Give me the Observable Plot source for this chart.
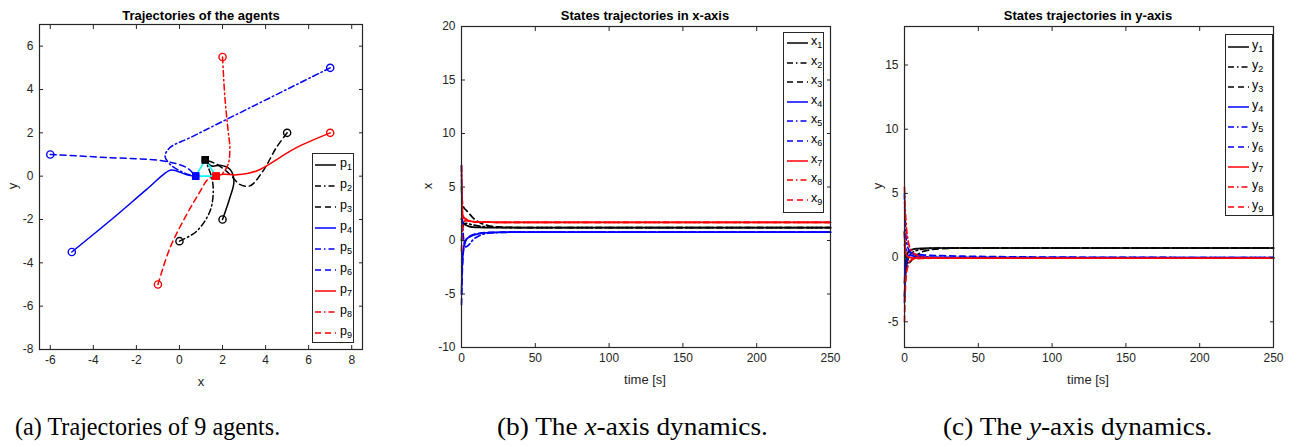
<!DOCTYPE html>
<html><head><meta charset="utf-8">
<script src="https://cdn.jsdelivr.net/npm/d3@7"></script>
<script src="https://cdn.jsdelivr.net/npm/@observablehq/plot@0.6"></script>
<style>
body{margin:0;background:#fff;width:1301px;height:447px;overflow:hidden;position:relative;font-family:"Liberation Sans",Arial,sans-serif;}
.panel{position:absolute;top:0;}
.title{position:absolute;font-weight:bold;font-size:13px;color:#000;transform:translateX(-50%);white-space:nowrap;line-height:1;}
.lab{position:absolute;font-size:13px;color:#262626;white-space:nowrap;line-height:1;transform:translate(-50%,-50%);}
.lab.rot{transform:translate(-50%,-50%) rotate(-90deg);}
.cap{position:absolute;font-family:"Liberation Serif","Times New Roman",serif;font-size:26px;top:412px;white-space:nowrap;color:#000;line-height:1.15;transform-origin:0 50%;}
.legend{position:absolute;border:1px solid #262626;background:#fff;box-sizing:border-box;}
.row{position:absolute;font-size:12.5px;line-height:1;color:#000;white-space:nowrap;}
.row sub{font-size:9px;vertical-align:-3px;}
</style>
</head><body>
<script>
// ---------- data ----------
const agentIds = [1,2,3,4,5,6,7,8,9];
const agentColors = ["#000000","#000000","#000000","#0000ff","#0000ff","#0000ff","#ff0000","#ff0000","#ff0000"];
const agentDash = ["none","6,3,1.5,3","6,4","none","6,3,1.5,3","6,4","none","6,3,1.5,3","6,4"];

// (a) planar trajectories (x, y)
const p1x = [2, 2.34, 2.53, 2.34, 1.88, 1.5, 1.2];
const p1y = [-2, -1.0, -0.22, 0.32, 0.5, 0.47, 0.75];
const p2x = [0, 0.8, 1.42, 1.57, 1.5, 1.34, 1.2];
const p2y = [-3, -2.54, -1.61, -0.69, -0.07, 0.4, 0.75];
const p3x = [5, 4.5, 3.88, 3.27, 2.8, 2.34, 1.73, 1.2];
const p3y = [2, 1.32, 0.24, -0.45, -0.38, 0.09, 0.55, 0.75];
const p4x = [-5, -3.06, -1.51, -0.44, -0.13, 0.34, 0.75];
const p4y = [-3.5, -1.92, -0.6, 0.27, 0.24, 0.06, 0];
const p5x = [7, 3.5, 0.5, -0.44, -0.67, -0.44, 0.03, 0.49, 0.75];
const p5y = [5, 3.27, 1.78, 1.32, 0.93, 0.55, 0.24, 0.05, 0];
const p6x = [-6, -3.37, -0.74, 0.34, 0.75];
const p6y = [1, 0.86, 0.7, 0.39, 0];
const p7x = [7, 5.43, 4.66, 3.58, 2.65, 2.03, 1.7];
const p7y = [2, 1.32, 0.86, 0.24, 0.06, 0.09, 0];
const p8x = [2, 2.11, 2.26, 2.34, 2.26, 1.99, 1.7];
const p8y = [5.5, 3.63, 2.09, 1.32, 0.55, 0.12, 0];
const p9x = [-1, -0.44, 0.34, 0.88, 1.35, 1.7];
const p9y = [-5, -3.31, -1.76, -0.84, -0.12, 0];
const formationX = [1.2, 0.75, 1.7, 1.2];
const formationY = [0.75, 0, 0, 0.75];

// (b),(c) time series
const time = [0, 0.25, 0.5, 1, 2, 3, 5, 8, 12, 18, 25, 40, 60, 100, 150, 250];
const x1 = [2, 1.9, 1.8, 1.7, 1.55, 1.45, 1.32, 1.25, 1.22, 1.21, 1.2, 1.2, 1.2, 1.2, 1.2, 1.2];
const x2 = [0, 0.5, 0.9, 1.3, 1.55, 1.6, 1.55, 1.45, 1.35, 1.27, 1.22, 1.2, 1.2, 1.2, 1.2, 1.2];
const x3 = [5, 4.2, 3.7, 3.25, 3.0, 2.85, 2.55, 2.1, 1.7, 1.4, 1.27, 1.21, 1.2, 1.2, 1.2, 1.2];
const x4 = [-5, -3.5, -2.4, -1.2, -0.3, 0.05, 0.3, 0.5, 0.65, 0.73, 0.76, 0.78, 0.78, 0.78, 0.78, 0.78];
const x5 = [7, 4.5, 2.8, 0.9, -0.3, -0.6, -0.4, 0.1, 0.45, 0.68, 0.75, 0.78, 0.78, 0.78, 0.78, 0.78];
const x6 = [-6, -4.2, -3.0, -1.5, -0.4, 0.0, 0.35, 0.55, 0.68, 0.75, 0.77, 0.78, 0.78, 0.78, 0.78, 0.78];
const x7 = [7, 4.2, 3.0, 2.3, 2.1, 2.0, 1.85, 1.76, 1.72, 1.71, 1.7, 1.7, 1.7, 1.7, 1.7, 1.7];
const x8 = [2, 2.05, 2.1, 2.1, 2.05, 2.0, 1.85, 1.76, 1.72, 1.71, 1.7, 1.7, 1.7, 1.7, 1.7, 1.7];
const x9 = [-1, 0.2, 0.9, 1.5, 1.8, 1.85, 1.8, 1.75, 1.72, 1.71, 1.7, 1.7, 1.7, 1.7, 1.7, 1.7];
const y1 = [-2, -1.3, -0.8, -0.2, 0.3, 0.5, 0.62, 0.7, 0.73, 0.75, 0.75, 0.75, 0.75, 0.75, 0.75, 0.75];
const y2 = [-3, -2.3, -1.8, -1.0, -0.3, 0.05, 0.35, 0.55, 0.66, 0.72, 0.74, 0.75, 0.75, 0.75, 0.75, 0.75];
const y3 = [2, 1.2, 0.6, 0.0, -0.35, -0.4, -0.2, 0.15, 0.45, 0.62, 0.7, 0.74, 0.75, 0.75, 0.75, 0.75];
const y4 = [-3.5, -2.4, -1.6, -0.6, 0.1, 0.2, 0.15, 0.08, 0.04, 0.02, 0.01, 0, 0, 0, 0, 0];
const y5 = [5, 3.6, 2.7, 1.6, 0.9, 0.6, 0.35, 0.2, 0.1, 0.05, 0.02, 0, 0, 0, 0, 0];
const y6 = [1, 0.9, 0.8, 0.65, 0.5, 0.42, 0.33, 0.27, 0.22, 0.18, 0.15, 0.11, 0.08, 0.04, 0.02, 0];
const y7 = [2, 1.2, 0.7, 0.3, 0.1, 0.03, -0.02, -0.04, -0.05, -0.05, -0.05, -0.05, -0.05, -0.05, -0.05, -0.05];
const y8 = [5.5, 4.5, 3.8, 2.8, 1.6, 1.0, 0.5, 0.2, 0.05, 0, -0.03, -0.05, -0.05, -0.05, -0.05, -0.05];
const y9 = [-5, -3.6, -2.7, -1.6, -0.8, -0.4, -0.15, -0.08, -0.06, -0.05, -0.05, -0.05, -0.05, -0.05, -0.05, -0.05];

const ticksAx = [-6, -4, -2, 0, 2, 4, 6, 8];
const ticksAy = [-8, -6, -4, -2, 0, 2, 4, 6];
const ticksT = [0, 50, 100, 150, 200, 250];
const ticksBy = [-10, -5, 0, 5, 10, 15, 20];
const ticksCy = [-5, 0, 5, 10, 15];

// ---------- helpers ----------
const PX = [p1x,p2x,p3x,p4x,p5x,p6x,p7x,p8x,p9x];
const PY = [p1y,p2y,p3y,p4y,p5y,p6y,p7y,p8y,p9y];
const XS = [x1,x2,x3,x4,x5,x6,x7,x8,x9];
const YS = [y1,y2,y3,y4,y5,y6,y7,y8,y9];
const fmt = d => String(d);
const blank = () => "";
const axisColor = "#262626";

function axes(xt, yt) {
  return [
    Plot.axisX({ticks: xt, anchor: "bottom", tickSize: -4, tickPadding: 10, tickFormat: fmt, label: null, stroke: axisColor, color: axisColor}),
    Plot.axisX({ticks: xt, anchor: "top", tickSize: -4, tickFormat: blank, label: null, stroke: axisColor}),
    Plot.axisY({ticks: yt, anchor: "left", tickSize: -4, tickPadding: 10, tickFormat: fmt, label: null, stroke: axisColor, color: axisColor}),
    Plot.axisY({ticks: yt, anchor: "right", tickSize: -4, tickFormat: blank, label: null, stroke: axisColor}),
    Plot.frame({stroke: axisColor, strokeWidth: 1.2})
  ];
}
const baseStyle = {fontFamily: "Liberation Sans, Arial, sans-serif", fontSize: "12px", color: "#262626", background: "transparent", maxWidth: "none", overflow: "visible"};

function place(el, left) {
  el.classList.add("panel");
  el.style.left = left + "px";
  document.body.appendChild(el);
}

// ---------- (a) ----------
const trajMarks = agentIds.map((id, i) => {
  const pts = PX[i].map((x, j) => ({x, y: PY[i][j]}));
  return Plot.line(pts, {x: "x", y: "y", stroke: agentColors[i], strokeWidth: 1.5,
    strokeDasharray: agentDash[i] === "none" ? null : agentDash[i], curve: "catmull-rom"});
});
const starts = agentIds.map((id, i) => ({x: PX[i][0], y: PY[i][0], c: agentColors[i]}));
const ends = agentIds.map((id, i) => ({x: PX[i][PX[i].length-1], y: PY[i][PY[i].length-1], c: agentColors[i]}));
const formation = formationX.map((x, j) => ({x, y: formationY[j]}));

const plotA = Plot.plot({
  width: 370, height: 400,
  marginLeft: 39, marginRight: 8, marginTop: 24, marginBottom: 51,
  x: {domain: [-6.5, 8.5]}, y: {domain: [-8, 7]},
  style: baseStyle,
  marks: [
    ...trajMarks,
    Plot.dot(starts, {x: "x", y: "y", r: 3.6, stroke: "c", fill: "none", strokeWidth: 1.4}),
    Plot.line(formation, {x: "x", y: "y", stroke: "#00ffff", strokeWidth: 1.6}),
    Plot.dot(ends, {x: "x", y: "y", symbol: "square", r: 3.2, stroke: "c", fill: "c", fillOpacity: 0.6, strokeWidth: 1.6}),
    ...axes(ticksAx, ticksAy)
  ]
});
place(plotA, 0);

// ---------- (b), (c) ----------
function seriesMarks(S) {
  return agentIds.map((id, i) => {
    const pts = time.map((t, j) => ({t, v: S[i][j]}));
    return Plot.line(pts, {x: "t", y: "v", stroke: agentColors[i], strokeWidth: 1.7,
      strokeDasharray: agentDash[i] === "none" ? null : agentDash[i], curve: "monotone-x"});
  });
}
const plotB = Plot.plot({
  width: 440, height: 400,
  marginLeft: 61, marginRight: 10, marginTop: 26, marginBottom: 53,
  x: {domain: [0, 250]}, y: {domain: [-10, 20]},
  style: baseStyle,
  marks: [...seriesMarks(XS), ...axes(ticksT, ticksBy)]
});
place(plotB, 400);

const plotC = Plot.plot({
  width: 441, height: 400,
  marginLeft: 44, marginRight: 28, marginTop: 26, marginBottom: 53,
  x: {domain: [0, 250]}, y: {domain: [-7, 18]},
  style: baseStyle,
  marks: [...seriesMarks(YS), ...axes(ticksT, ticksCy)]
});
place(plotC, 860);

// ---------- text ----------
function addDiv(cls, html, css) {
  const d = document.createElement("div");
  d.className = cls; d.innerHTML = html;
  Object.assign(d.style, css);
  document.body.appendChild(d);
  return d;
}
addDiv("title", "Trajectories of the agents", {left: "201px", top: "9px"});
addDiv("title", "States trajectories in x-axis", {left: "645px", top: "9px"});
addDiv("title", "States trajectories in y-axis", {left: "1088px", top: "9px"});
addDiv("lab", "x", {left: "201px", top: "381px"});
addDiv("lab rot", "y", {left: "12px", top: "186px"});
addDiv("lab", "time [s]", {left: "645px", top: "379px"});
addDiv("lab rot", "x", {left: "427px", top: "186px"});
addDiv("lab", "time [s]", {left: "1088px", top: "379px"});
addDiv("lab rot", "y", {left: "877px", top: "186px"});
addDiv("cap", "(a) Trajectories of 9 agents.", {left: "15px", transform: "scaleX(0.93)"});
addDiv("cap", "(b) The <i>x</i>-axis dynamics.", {left: "497px", transform: "scaleX(1.05)"});
addDiv("cap", "(c) The <i>y</i>-axis dynamics.", {left: "943px", transform: "scaleX(1.05)"});

// ---------- legends ----------
function legend(left, top, w, h, first, step, lx0, lx1, tx, prefix) {
  const box = addDiv("legend", "", {left: left + "px", top: top + "px", width: w + "px", height: h + "px"});
  agentIds.forEach((id, i) => {
    const cy = first + i * step;
    const ns = "http://www.w3.org/2000/svg";
    const svg = document.createElementNS(ns, "svg");
    svg.setAttribute("width", lx1 - lx0); svg.setAttribute("height", 6);
    svg.style.position = "absolute"; svg.style.left = (lx0 - 1) + "px"; svg.style.top = (cy - 3 - 1) + "px";
    const ln = document.createElementNS(ns, "line");
    ln.setAttribute("x1", 0); ln.setAttribute("x2", lx1 - lx0); ln.setAttribute("y1", 3); ln.setAttribute("y2", 3);
    ln.setAttribute("stroke", agentColors[i]); ln.setAttribute("stroke-width", 1.5);
    if (agentDash[i] !== "none") ln.setAttribute("stroke-dasharray", agentDash[i]);
    svg.appendChild(ln); box.appendChild(svg);
    const r = document.createElement("div");
    r.className = "row"; r.innerHTML = prefix + "<sub>" + id + "</sub>";
    r.style.left = (tx - 1) + "px"; r.style.top = (cy - 8 - 1) + "px";
    box.appendChild(r);
  });
}
legend(312, 153, 42, 190, 12, 21, 3, 24, 28, "p");
legend(783, 32, 41, 181, 11, 19.6, 4, 25, 28, "x");
legend(1225, 34, 48, 182, 13, 20, 3, 24, 27, "y");
</script>
</body></html>
